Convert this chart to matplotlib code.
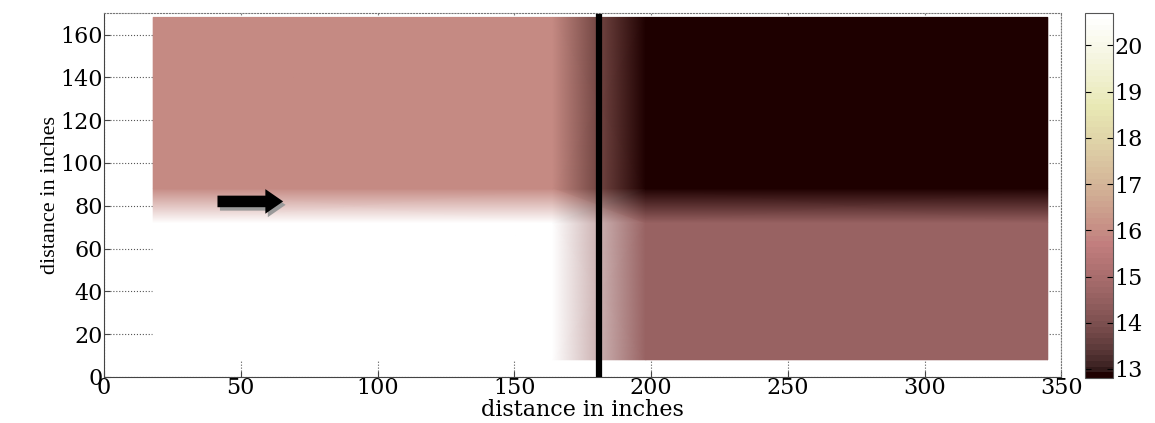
import numpy as np
import matplotlib.pyplot as plt
from matplotlib.patches import FancyArrow

# grid nodes of the measured field (inches) and the values at them
x_nodes = [18, 164, 198, 345]
y_nodes = [8, 72, 88, 168]
field = [
    [20.7, 20.7, 14.6, 14.6],
    [20.7, 20.7, 14.6, 14.6],
    [15.9, 15.9, 12.85, 12.85],
    [15.9, 15.9, 12.85, 12.85],
]
wall_x = 181
arrow_start = (41.5, 82)
arrow_len = 24
cbar_ticks = [13, 14, 15, 16, 17, 18, 19, 20]
x_ticks = [0, 50, 100, 150, 200, 250, 300, 350]
y_ticks = [0, 20, 40, 60, 80, 100, 120, 140, 160]


def main():
    fig = plt.figure(figsize=(11.55, 4.23), dpi=100)
    ax = fig.add_axes([0.090, 0.109, 0.829, 0.860])
    cax = fig.add_axes([0.9394, 0.106, 0.0242, 0.863])

    X, Y = np.meshgrid(x_nodes, y_nodes)
    Z = np.array(field)
    cmap = plt.get_cmap('pink', 64)
    mesh = ax.pcolormesh(X, Y, Z, shading='gouraud', cmap=cmap, vmin=12.8, vmax=20.7)

    # wall
    ax.plot([wall_x, wall_x], [0, 168], color='black', lw=4.5, zorder=3)

    # arrow with grey shadow
    ax.add_patch(FancyArrow(arrow_start[0] + 0.9, arrow_start[1] - 1.6, arrow_len, 0,
                            width=5.4, head_width=11.5, head_length=6.5,
                            length_includes_head=True, color='#9a9a9a', lw=0, zorder=4))
    ax.add_patch(FancyArrow(arrow_start[0], arrow_start[1], arrow_len, 0,
                            width=5.4, head_width=11.5, head_length=6.5,
                            length_includes_head=True, color='black', lw=0, zorder=5))

    ax.set_xlim(0, 350)
    ax.set_ylim(0, 170)
    ax.set_xticks(x_ticks)
    ax.set_yticks(y_ticks)
    ax.set_axisbelow(True)
    ax.grid(True, linestyle=':', color='#555555', lw=0.8)
    for s in ['top', 'right']:
        ax.spines[s].set_linestyle(':')
        ax.spines[s].set_color('#777777')
    for s in ['left', 'bottom']:
        ax.spines[s].set_color('#444444')
    ax.tick_params(direction='in', length=4, labelsize=16, pad=1, color='#444444')
    ax.tick_params(axis='x', pad=0)
    for lab in ax.get_xticklabels() + ax.get_yticklabels():
        lab.set_family('DejaVu Serif')
    ax.set_xlabel('distance in inches', family='DejaVu Serif', fontsize=16, labelpad=0)
    ax.set_ylabel('distance in inches', family='Liberation Serif', fontsize=16, labelpad=0)

    cb = fig.colorbar(mesh, cax=cax, ticks=cbar_ticks)
    cb.outline.set_edgecolor('#555555')
    cax.tick_params(direction='in', length=4, labelsize=16, left=True, right=True, pad=1)
    for lab in cax.get_yticklabels():
        lab.set_family('DejaVu Serif')

    plt.savefig('out.png', dpi=100)


if __name__ == '__main__':
    main()
